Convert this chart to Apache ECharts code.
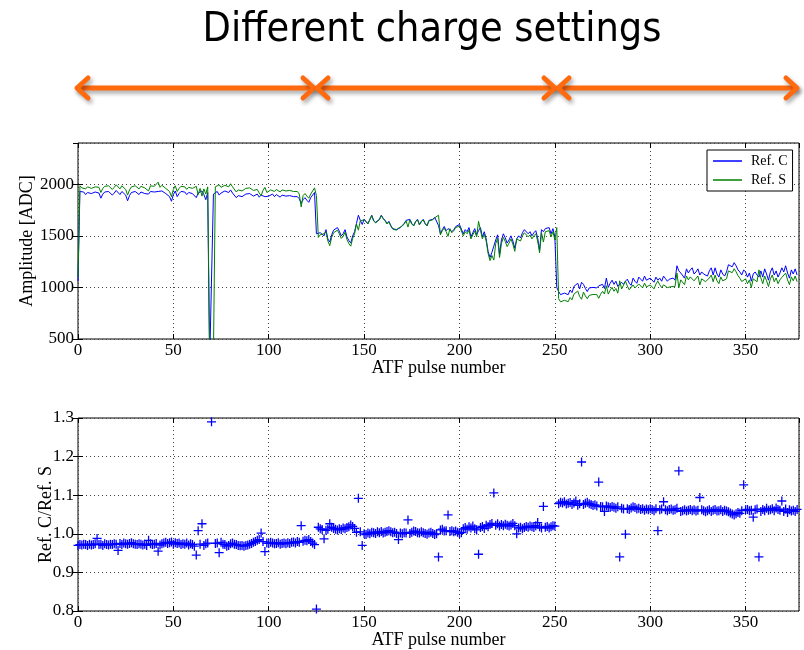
<!DOCTYPE html>
<html><head><meta charset="utf-8">
<script src="https://cdn.jsdelivr.net/npm/echarts@6/dist/echarts.min.js"></script>
<style>html,body{margin:0;padding:0;background:#fff}#c{width:804px;height:650px}</style>
</head><body><div id="c"></div>
<script>
const title = "Different charge settings";
const seriesNames = ["Ref. C", "Ref. S"];
const xTicks = [0, 50, 100, 150, 200, 250, 300, 350];
const ampTicks = [500, 1000, 1500, 2000];
const ratioTicks = [0.8, 0.9, 1.0, 1.1, 1.2, 1.3];

const refC = [
1060,1930,1915,1925,1900,1920,1935,1910,1905,1925,1940,1915,1865,1905,1925,1910,1930,1920,1895,1915,
1940,1925,1900,1930,1915,1895,1840,1890,1920,1910,1930,1915,1900,1925,1935,1910,1920,1905,1930,1915,
1925,1940,1930,1915,1935,1925,1910,1925,1880,1835,1900,1935,1880,1910,1930,1915,1925,1900,1920,1935,
1910,1925,1870,1915,1905,1935,1900,1850,1920,250,258,1905,1920,1930,1895,1915,1925,1935,1940,1920,
1945,1915,1900,1870,1890,1900,1880,1895,1905,1890,1910,1900,1885,1895,1905,1875,1895,1900,1880,1870,
1885,1895,1905,1880,1900,1890,1875,1895,1905,1885,1870,1890,1900,1880,1865,1880,1860,1815,1850,1870,
1845,1825,1870,1885,1920,1520,1510,1530,1545,1500,1560,1470,1440,1510,1555,1540,1580,1545,1500,1520,
1560,1490,1455,1430,1500,1540,1620,1700,1650,1610,1660,1640,1620,1660,1700,1650,1630,1640,1660,1700,
1670,1650,1620,1640,1600,1570,1580,1560,1550,1580,1600,1620,1650,1640,1660,1620,1600,1640,1660,1610,
1640,1660,1620,1600,1650,1640,1660,1680,1690,1600,1520,1560,1590,1550,1570,1580,1540,1560,1590,1580,
1610,1620,1520,1560,1540,1580,1490,1530,1570,1510,1550,1580,1490,1540,1470,1350,1290,1340,1400,1460,
1510,1320,1460,1520,1480,1430,1460,1500,1450,1380,1470,1500,1480,1530,1560,1570,1520,1540,1500,1530,
1550,1480,1360,1560,1540,1570,1560,1580,1520,1570,1490,1000,960,930,915,945,960,930,975,950,
1010,1000,1040,985,1050,1030,990,960,995,980,1000,1010,995,1015,1000,1030,990,1090,1000,1040,
1070,1030,1060,1010,1000,1050,1030,1060,1080,1040,1020,1090,1060,1040,1100,1080,1060,1110,1070,1060,
1090,1075,1050,1100,1070,1090,1060,1110,1085,1060,1080,1070,1090,1070,1210,1160,1140,1130,1090,1180,
1140,1170,1190,1130,1150,1180,1120,1150,1130,1120,1110,1160,1190,1120,1190,1130,1100,1170,1130,1110,
1150,1220,1230,1200,1240,1210,1170,1150,1120,1170,1150,1100,1140,1060,1130,1150,1120,1100,1160,1100,
1180,1130,1070,1150,1190,1120,1160,1100,1140,1190,1150,1210,1140,1090,1170,1130,1180,1120
];

const refS = [
1100,1985,1965,1975,1955,1975,1990,1960,1960,1975,1965,1970,1920,1960,1980,1965,1985,1975,1950,1970,
1995,2010,1955,1985,1970,1950,1895,1945,1975,1965,1985,1970,1955,1980,1990,1965,1975,1935,1985,1970,
1980,1995,2020,1970,1990,1975,1960,1975,1930,1880,1950,1985,1930,1960,1980,1965,1975,1950,1970,1985,
1960,1975,1980,1900,1960,1885,1955,1905,1975,420,200,350,1975,1985,1995,1970,1980,1990,1995,1975,
2005,1975,1960,1925,1945,1955,1935,1950,1960,1945,1965,1955,1940,1945,1950,1915,1890,1940,1970,1920,
1935,1945,1955,1930,1950,1940,1925,1945,1955,1935,1920,1940,1950,1930,1915,1930,1905,1780,1890,1910,
1885,1865,1905,1920,1965,1890,1485,1510,1525,1520,1540,1450,1405,1485,1530,1515,1555,1520,1475,1495,
1535,1465,1425,1400,1475,1520,1615,1555,1645,1660,1655,1635,1615,1655,1695,1645,1625,1635,1655,1695,
1665,1645,1615,1635,1595,1565,1575,1555,1575,1575,1595,1615,1645,1585,1655,1615,1595,1635,1655,1605,
1635,1655,1615,1595,1645,1635,1655,1675,1685,1700,1510,1550,1575,1540,1495,1570,1530,1550,1580,1570,
1595,1600,1500,1540,1520,1555,1470,1510,1545,1490,1640,1555,1470,1515,1450,1330,1260,1310,1265,1425,
1475,1290,1425,1485,1445,1395,1430,1470,1420,1350,1470,1470,1450,1500,1530,1540,1490,1510,1470,1500,
1520,1450,1335,1530,1440,1540,1530,1550,1490,1540,1460,1580,890,860,848,875,890,862,902,880,
935,926,965,912,885,955,918,890,922,910,932,942,930,895,934,962,936,1017,935,972,
1000,963,990,944,1064,985,967,1061,1014,977,958,1024,995,977,1033,1014,995,1042,1005,995,
1024,1010,986,1033,1061,1026,998,1025,1022,998,1017,1008,1026,1008,1139,997,1073,1064,1026,1111,
1073,1102,1120,1064,1083,1111,1024,1083,1064,1055,1045,1092,1120,1055,1120,1064,1036,1102,1064,1045,
1083,1160,1171,1143,1181,1152,1114,1090,1057,1038,1083,1036,1073,998,1083,1083,1055,1170,1092,1036,
1111,1064,1008,1083,1120,1055,1092,1036,1073,1097,1083,1139,1073,1026,1102,1064,1111,1055
];

const ratio = [
0.970,0.972,0.971,0.973,0.972,0.970,0.973,0.971,0.972,0.974,
0.988,0.972,0.973,0.970,0.974,0.972,0.971,0.973,0.972,0.974,
0.973,0.957,0.975,0.972,0.976,0.974,0.973,0.975,0.977,0.974,
0.973,0.972,0.974,0.973,0.971,0.973,0.970,0.983,0.974,0.972,
0.973,0.975,0.955,0.971,0.974,0.976,0.978,0.975,0.977,0.979,
0.973,0.977,0.975,0.976,0.972,0.974,0.973,0.976,0.971,0.974,
0.972,0.968,0.945,1.008,0.973,1.026,0.970,0.974,0.976,null,
1.290,null,0.975,0.976,0.951,0.978,0.973,0.972,0.968,0.970,
0.974,0.976,0.973,0.972,0.970,0.969,0.970,0.968,0.970,0.971,
0.973,0.975,0.978,0.980,0.983,0.985,1.002,0.980,0.954,0.976,
0.975,0.978,0.976,0.974,0.975,0.977,0.973,0.975,0.976,0.974,
0.977,0.975,0.978,0.979,0.976,0.980,0.978,1.021,0.981,0.983,
0.982,0.985,0.980,0.976,0.972,0.805,
1.017,1.013,1.011,0.987,1.009,1.012,1.026,1.017,1.014,1.012,
1.010,1.013,1.011,1.015,1.013,1.016,1.018,1.023,1.019,1.014,
1.004,1.092,1.005,0.970,1.000,0.998,1.002,1.000,1.004,1.003,
1.001,1.005,1.003,1.006,1.002,1.004,1.006,1.008,1.005,1.003,
1.004,1.001,0.985,1.002,1.000,1.003,1.002,1.036,1.001,1.004,
1.007,1.006,1.003,1.002,1.005,1.003,1.001,0.999,1.002,1.004,
1.001,0.998,1.000,0.940,1.010,1.012,1.007,1.008,1.049,1.006,
1.008,1.005,1.007,1.004,1.001,1.003,1.013,1.016,1.012,1.018,
1.015,1.020,1.013,1.010,0.947,1.016,1.019,1.014,1.022,1.018,
1.024,1.027,1.106,1.022,1.026,1.020,1.024,1.021,1.025,1.022,
1.020,1.023,1.027,1.021,1.000,1.015,1.017,1.013,1.016,1.019,
1.017,1.020,1.018,1.016,1.021,1.029,1.018,1.015,1.071,1.017,
1.019,1.015,1.018,1.021,1.020,null,
1.078,1.082,1.080,1.083,1.077,1.079,1.081,1.076,1.080,1.085,
1.074,1.078,1.186,1.076,1.079,1.082,1.078,1.076,1.073,1.075,
1.072,1.134,1.071,1.070,1.058,1.072,1.070,1.068,1.071,1.069,
1.066,1.070,0.940,1.066,1.064,0.999,1.065,1.063,1.067,1.070,
1.068,1.064,1.066,1.063,1.065,1.061,1.064,1.062,1.065,1.063,
1.060,1.065,1.008,1.062,1.064,1.083,1.062,1.060,1.063,1.064,
1.061,1.062,1.066,1.163,1.058,1.060,1.062,1.059,1.061,1.063,
1.060,1.062,1.059,1.061,1.094,1.062,1.060,1.057,1.060,1.062,
1.058,1.061,1.063,1.059,1.060,1.062,1.058,1.061,1.059,1.057,
1.054,1.051,1.049,1.052,1.055,1.053,1.060,1.127,1.062,1.063,
1.060,1.061,1.043,1.062,1.064,0.940,1.058,1.063,1.060,1.066,
1.061,1.062,1.065,1.060,1.067,1.063,1.061,1.085,1.058,1.064,
1.055,1.062,1.059,1.061,1.058,1.063
];

const toPairs = arr => arr.map((v, i) => [i, v]);

const serif = "'Liberation Serif','DejaVu Serif',serif";
const tickFont = {fontFamily: serif, fontSize: 17, color: '#000'};
const nameFont = {fontFamily: serif, fontSize: 18, color: '#000'};

function xAxisDef(gridIndex, pos) {
  const main = pos !== 'top';
  return {
    type: 'value', gridIndex, min: 0, max: 378, interval: 50, position: pos || 'bottom',
    name: main ? 'ATF pulse number' : '', nameLocation: 'middle', nameGap: 20,
    nameMoveOverlap: false,
    nameTextStyle: {...nameFont, verticalAlign: 'top'},
    axisLine: {show: false},
    axisTick: {show: true, inside: true, length: 5, lineStyle: {color: '#000'}},
    axisLabel: {show: main, ...tickFont, margin: 3, showMaxLabel: false, formatter: v => String(v)},
    splitLine: {show: main, lineStyle: {color: '#444', type: [1, 3], width: 1}}
  };
}
function yAxisDef(gridIndex, opts, pos) {
  const main = pos !== 'right';
  return Object.assign({
    type: 'value', gridIndex, position: pos || 'left',
    nameLocation: 'middle', nameTextStyle: nameFont, nameMoveOverlap: false,
    axisLine: {show: false},
    axisTick: {show: true, inside: true, length: 5, lineStyle: {color: '#000'}},
    axisLabel: {show: main, ...tickFont, margin: 4, showMaxLabel: false, formatter: v => String(v)},
    splitLine: {show: main, lineStyle: {color: '#444', type: [1, 3], width: 1}}
  }, opts, main ? {} : {name: ''});
}

const plus = 'path://M3,0 L4,0 L4,3 L7,3 L7,4 L4,4 L4,7 L3,7 L3,4 L0,4 L0,3 L3,3 Z';

function arrow(x1, x2, y) {
  const c = '#ff6a0f', w = 5, hx = 12, hy = 10;
  const st = {stroke: c, lineWidth: w, lineCap: 'round', lineJoin: 'round', fill: null,
    shadowBlur: 4, shadowColor: 'rgba(0,0,0,0.35)', shadowOffsetX: 2, shadowOffsetY: 3};
  return [
    {type: 'line', shape: {x1: x1 + 2, y1: y, x2: x2 - 2, y2: y}, style: st},
    {type: 'polyline', shape: {points: [[x1 + hx, y - hy], [x1 + 1, y], [x1 + hx, y + hy]]}, style: st},
    {type: 'polyline', shape: {points: [[x2 - hx, y - hy], [x2 - 1, y], [x2 - hx, y + hy]]}, style: st}
  ];
}

const chart = echarts.init(document.getElementById('c'), null, {renderer: 'canvas'});
chart.setOption({
  backgroundColor: '#fff',
  animation: false,
  graphic: [
    {type: 'text', x: 432, y: 30, style: {text: title, fontFamily: "'DejaVu Sans Condensed','DejaVu Sans',sans-serif", fontSize: 41, fill: '#000', align: 'center', verticalAlign: 'middle'}},
    ...arrow(76, 315, 88), ...arrow(316, 556, 88), ...arrow(557, 798, 88)
  ],
  grid: [
    {left: 78, top: 143, width: 721, height: 196, show: true, borderColor: '#000', borderWidth: 1, backgroundColor: 'transparent'},
    {left: 78, top: 418, width: 721, height: 195, show: true, borderColor: '#000', borderWidth: 1, backgroundColor: 'transparent'}
  ],
  xAxis: [xAxisDef(0), xAxisDef(1), xAxisDef(0, 'top'), xAxisDef(1, 'top')],
  yAxis: [
    yAxisDef(0, {min: 500, max: 2400, interval: 500, name: 'Amplitude [ADC]', nameGap: 42}),
    yAxisDef(1, {min: 0.8, max: 1.3, interval: 0.1, name: 'Ref. C/Ref. S', nameGap: 23,
      axisLabel: {...tickFont, margin: 4, showMaxLabel: true, formatter: v => v.toFixed(1)}}),
    yAxisDef(0, {min: 500, max: 2400, interval: 500}, 'right'),
    yAxisDef(1, {min: 0.8, max: 1.3, interval: 0.1}, 'right')
  ],
  legend: {
    data: seriesNames, orient: 'vertical', left: 707, top: 150,
    backgroundColor: '#fff', borderColor: '#000', borderWidth: 1, borderRadius: 0,
    padding: [4, 5, 4, 6], itemGap: 5, itemWidth: 29, itemHeight: 1.5, icon: 'rect',
    textStyle: {fontFamily: serif, fontSize: 14, color: '#000', padding: [0, 0, 0, 4]}
  },
  series: [
    {name: seriesNames[0], type: 'line', xAxisIndex: 0, yAxisIndex: 0, data: toPairs(refC),
      showSymbol: false, symbol: 'none', clip: true, lineStyle: {color: '#0000ff', width: 1}, itemStyle: {color: '#0000ff'}, z: 3},
    {name: seriesNames[1], type: 'line', xAxisIndex: 0, yAxisIndex: 0, data: toPairs(refS),
      showSymbol: false, symbol: 'none', clip: true, lineStyle: {color: '#008000', width: 1}, itemStyle: {color: '#008000'}, z: 4},
    {name: 'ratio', type: 'scatter', xAxisIndex: 1, yAxisIndex: 1, data: toPairs(ratio).filter(p => p[1] !== null),
      symbol: plus, symbolSize: 9, clip: true, itemStyle: {color: '#0000ff', opacity: 1}, z: 3}
  ]
});
</script></body></html>
